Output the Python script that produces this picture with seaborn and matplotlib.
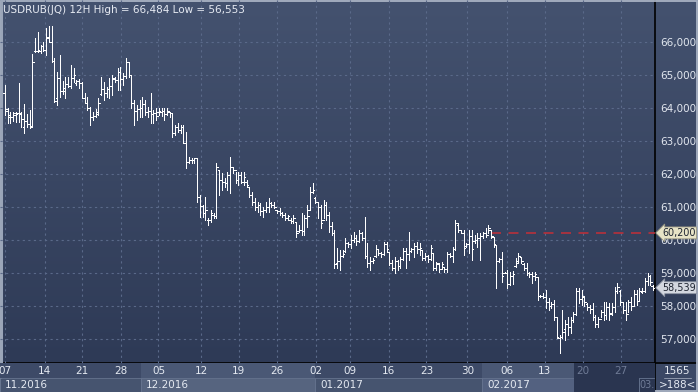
import numpy as np
import matplotlib
matplotlib.use("Agg")
import matplotlib.pyplot as plt
import matplotlib.transforms as mtransforms
from matplotlib.colors import LinearSegmentedColormap
from matplotlib.patches import Rectangle
import seaborn as sns

# ---------------- data (USDRUB 12H bars) ----------------
highs = [
    64680, 63980, 63870, 63850, 63870, 64730, 63870, 64100, 63800, 63930,
    65610, 66100, 66300, 65900, 66000, 66400, 66484, 66460, 65490, 65090,
    65590, 64800, 64930, 64930, 65290, 65190, 64830, 64850, 64780, 64430,
    64330, 64030, 63870, 63950, 64280, 64930, 64780, 64630, 64880,
    64985, 64934, 65187, 65237, 65035, 65490, 65389, 64985, 64227, 64075,
    64227, 64328, 64227, 64025, 64429, 63924, 63974, 63974, 64000, 63974,
    63974, 63873, 63823, 63470, 63520, 63470, 63470, 63267, 62510, 62460,
    62460, 62460, 61348, 61045, 61298, 60642, 60894, 60793, 62308,
    62106, 62005, 61853, 62055, 62510, 62207, 62055, 62055, 62055, 62055,
    61803, 61601, 61449, 61247, 61146, 61096, 60995, 61146, 61247, 61146,
    61146, 60894, 60944, 60843, 60793, 60742, 60641, 60742, 60540, 60439,
    60793, 60742, 61045, 61601, 61702, 61298, 61146, 61045, 61197,
    61147, 60844, 60540, 60288, 59733, 59682, 59682, 60035, 59935, 60136,
    60237, 60136, 60288, 60237, 60692, 59884, 59480, 59430, 59834, 59682,
    59632, 59935, 59935, 59632, 59379, 59480, 59379, 59480, 59733, 59733,
    60237, 59733, 59884, 59935, 59884, 59682, 59581, 59531, 59834, 59581,
    59329, 59278, 59329, 59177, 59632, 59581, 59783, 60591, 60490, 60288,
    60288, 59884, 60288, 60288, 60136, 60187, 60187, 60237, 60338, 60439,
    60288, 60086, 59834, 59430, 59632, 59026, 59076, 59026, 59050, 59430,
    59581, 59480, 59278, 59278, 59026, 59026, 59026, 58874, 58318, 58369,
    58470, 58217, 58116, 58167, 57662, 57106, 57864, 57561, 57662, 57662,
    57813, 58520, 58520, 58470, 58300, 58066, 58015, 58066, 57712, 57650,
    57864, 58116, 58116, 58066, 58066, 58571, 58672, 58470, 58116, 58116,
    58167, 58268, 58470, 58470, 58520, 58520, 58823, 58975, 58924, 58621,
]
lows = [
    63770, 63520, 63520, 63600, 63570, 63570, 63420, 63220, 63400, 63370,
    63420, 65690, 65690, 65640, 65700, 65590, 66000, 65390, 64180, 64080,
    64330, 64400, 64280, 64630, 64580, 64780, 64680, 64600, 64280, 64130,
    63930, 63470, 63620, 63700, 63770, 64380, 64230, 64330, 64280,
    64378, 64782, 64530, 64530, 64681, 64884, 64934, 63975, 63470, 63621,
    63722, 63722, 63772, 63722, 63520, 63520, 63621, 63772, 63750, 63621,
    63772, 63722, 63116, 63166, 63267, 63217, 62914, 62156, 62308, 62308,
    62308, 61146, 60692, 60692, 60591, 60440, 60540, 60642, 60642,
    61348, 61500, 61601, 61500, 61399, 62005, 61702, 61651, 61702, 61651,
    61601, 61298, 61045, 60894, 60844, 60742, 60692, 60844, 60844, 60995,
    60944, 60793, 60742, 60692, 60591, 60591, 60490, 60490, 60086, 60237,
    60136, 60136, 60389, 60894, 61399, 61096, 60641, 60338, 60641,
    60591, 60237, 60136, 59127, 59127, 59076, 59480, 59632, 59783, 59733,
    59935, 59833, 59935, 59985, 59430, 59177, 59076, 59278, 59480, 59531,
    59480, 59531, 59632, 59228, 59076, 58975, 59076, 59127, 59379, 59127,
    59379, 59632, 59480, 59581, 59531, 59379, 59379, 59329, 59379, 59076,
    59076, 59026, 59127, 59026, 59026, 59480, 59329, 59682, 60237, 60187,
    59531, 59783, 59581, 59379, 59884, 59783, 59379, 60035, 60086, 60187,
    60035, 59783, 58520, 59329, 58722, 58975, 58520, 58621, 58650, 59177,
    59278, 59280, 59076, 58924, 58874, 58672, 58773, 58167, 58268, 58217,
    57915, 57864, 57915, 57561, 57005, 56553, 57005, 56955, 57106, 57157,
    57510, 57712, 58066, 58015, 58000, 57864, 57763, 57561, 57359, 57360,
    57662, 57561, 57600, 57561, 57712, 57813, 58369, 58015, 57763, 57561,
    57813, 57864, 58015, 58015, 58167, 58369, 58419, 58621, 58621, 58470,
]
opens = [
    64430, 63900, 63770, 63720, 63820, 63820, 63800, 63400, 63600, 63500,
    63450, 65700, 65700, 65700, 65850, 65750, 66100, 66000, 65400, 64300,
    64900, 64500, 64500, 64700, 64650, 64900, 64750, 64800, 64750, 64300,
    64150, 64000, 63700, 63750, 63800, 64400, 64550, 64450, 64550,
    64650, 64850, 64830, 65080, 64850, 64950, 65390, 64980, 64130, 63900,
    63950, 64000, 64100, 63850, 63880, 63800, 63820, 63850, 63850, 63900,
    63800, 63850, 63820, 63220, 63400, 63330, 63420, 62920, 62360, 62400,
    62420, 62460, 61300, 61020, 60790, 60600, 60590, 60750, 60700,
    62100, 61800, 61750, 61700, 61950, 62200, 62100, 61800, 61950, 61750,
    61750, 61601, 61350, 61150, 61000, 61050, 60850, 60900, 61000, 61100,
    61050, 60880, 60850, 60800, 60750, 60650, 60600, 60550, 60540, 60250,
    60300, 60250, 60650, 60900, 61450, 61250, 61150, 61000, 60600,
    61050, 60750, 60400, 60200, 59300, 59350, 59500, 59650, 59900, 59850,
    60000, 60050, 59950, 60200, 60050, 59500, 59300, 59350, 59500, 59700,
    59600, 59550, 59850, 59630, 59300, 59150, 59350, 59200, 59400, 59650,
    59550, 59650, 59700, 59800, 59700, 59680, 59450, 59500, 59400, 59580,
    59150, 59250, 59100, 59170, 59100, 59550, 59500, 59700, 60450, 60280,
    60200, 59800, 59850, 60100, 59950, 60000, 60050, 60100, 60200, 60150,
    60300, 60080, 59830, 59350, 59420, 58990, 59000, 58650, 58900, 59200,
    59300, 59480, 59270, 59150, 59000, 58950, 58900, 58870, 58300, 58300,
    58250, 58100, 58000, 58050, 57650, 57030, 57050, 57300, 57450, 57350,
    57550, 57750, 58450, 58200, 58250, 58050, 57950, 57900, 57650, 57450,
    57600, 57800, 57700, 57950, 57760, 57950, 58450, 58450, 58100, 57850,
    57750, 58100, 58000, 58350, 58150, 58400, 58450, 58750, 58900, 58600,
]
closes = [
    63950, 63700, 63720, 63780, 63800, 63830, 63650, 63600, 63500, 63400,
    65390, 65700, 65750, 65850, 65750, 66150, 66000, 65400, 64200, 64900,
    64500, 64600, 64700, 64650, 64900, 65000, 64800, 64750, 64300, 64150,
    64000, 63700, 63750, 63850, 64150, 64550, 64450, 64550, 64650,
    64900, 64830, 65080, 64850, 64950, 65390, 64980, 64130, 63900, 63950,
    64000, 64100, 63850, 63880, 63800, 63820, 63750, 63900, 63900, 63800,
    63900, 63820, 63220, 63400, 63330, 63420, 62920, 62360, 62400, 62420,
    62460, 61300, 61020, 60790, 60900, 60590, 60800, 60700, 62200,
    61800, 61750, 61700, 61950, 62200, 62100, 61800, 61950, 61750, 61900,
    61650, 61350, 61150, 61000, 61050, 60850, 60900, 61000, 61100, 61050,
    61000, 60850, 60800, 60750, 60650, 60700, 60550, 60650, 60200, 60300,
    60250, 60650, 60700, 61450, 61500, 61150, 61000, 60500, 61050,
    60750, 60400, 60200, 59250, 59350, 59500, 59550, 59900, 59850, 60000,
    60050, 59950, 60200, 60050, 59500, 59300, 59350, 59380, 59700, 59600,
    59550, 59850, 59700, 59300, 59150, 59350, 59200, 59400, 59650, 59550,
    59650, 59700, 59800, 59700, 59750, 59450, 59500, 59400, 59750, 59150,
    59300, 59100, 59250, 59100, 59550, 59500, 59700, 60500, 60300, 60200,
    59750, 59850, 60100, 59700, 60000, 60050, 60100, 60200, 60150, 60350,
    60100, 59850, 59350, 59400, 58900, 59000, 58650, 58900, 58950, 59350,
    59500, 59350, 59150, 59000, 58950, 58900, 58950, 58300, 58300, 58250,
    58100, 58000, 58050, 57650, 57050, 57050, 57200, 57450, 57350, 57550,
    57750, 58450, 58200, 58300, 58100, 57950, 57900, 57650, 57450, 57600,
    57800, 57700, 57950, 57750, 57950, 58450, 58550, 58100, 57850, 57750,
    58100, 58000, 58350, 58150, 58450, 58450, 58750, 58900, 58700, 58539,
]

day_labels = ["07", "14", "21", "28", "05", "12", "19", "26", "02", "09",
              "16", "23", "30", "06", "13", "20", "27"]
day_bar_index = [0.0, 14.4, 28.0, 42.2, 55.9, 71.4, 85.2, 99.0, 113.3, 125.6,
                 139.8, 153.5, 168.4, 182.7, 196.6, 210.5, 224.3]
month_labels = ["11.2016", "12.2016", "01.2017", "02.2017", "03.2"]
month_start_index = [-1.8, 49.5, 112.9, 173.7, 230.9]
price_ticks = [57000, 58000, 59000, 60000, 61000, 62000, 63000, 64000, 65000, 66000]
level_price = 60200
level_start_index = 177
last_price = 58539
title = "USDRUB(JQ) 12H High = 66,484 Low = 56,553"

# ---------------- figure ----------------
sns.set_style("dark")
plt.rcParams["font.family"] = ["DejaVu Sans"]
W, H = 698, 392
fig = plt.figure(figsize=(W / 100, H / 100), dpi=100)

bg = fig.add_axes([0, 0, 1, 1])
bg.set_xlim(0, W)
bg.set_ylim(H, 0)
bg.axis("off")
cmap = LinearSegmentedColormap.from_list("bg", ["#44526f", "#2e3a56"])
grad = np.linspace(0, 1, 256).reshape(-1, 1)
bg.imshow(grad, extent=(0, W, 363, 0), aspect="auto", cmap=cmap, zorder=0)
bg.add_patch(Rectangle((0, 363), W, H - 363, color="#3b4865", zorder=1))

N = len(highs)
x = np.arange(N)
xl = (-1.82, N - 1 + 0.73)
yl = (56257.6, 67257.6)

# bottom date panel
axb = fig.add_axes([0, 0, 655 / W, (H - 363) / H])
axb.set_xlim(*xl)
axb.set_ylim(2, 0)
axb.axis("off")
axb.patch.set_alpha(0)
month_end = month_start_index[1:] + [xl[1]]
shade_row1 = ["#3d4a67", "#4a5875", "#3d4a67", "#4a5875", "#2a3550"]
shade_row2 = ["#46546f", "#56647f", "#46546f", "#536180", "#2a3550"]
for i, (s, e) in enumerate(zip(month_start_index, month_end)):
    axb.add_patch(Rectangle((s, 0), e - s, 1.0, color=shade_row1[i], lw=0, zorder=1))
    axb.add_patch(Rectangle((s, 1.0), e - s, 1.0, facecolor=shade_row2[i],
                            edgecolor="#66748f", lw=0.6, zorder=1))
dark_start = 207.2
axb.add_patch(Rectangle((dark_start, 0), month_start_index[4] - dark_start, 2.0,
                        color="#2a3550", lw=0, zorder=2))
for lab, pos in zip(day_labels, day_bar_index):
    col = "#6f7b96" if pos > dark_start else "#e4e9f1"
    axb.text(pos, 0.55, lab, ha="center", va="center", fontsize=7.5, color=col, zorder=3)
for i, (lab, pos) in enumerate(zip(month_labels, month_start_index)):
    last = i == len(month_labels) - 1
    col = "#6f7b96" if last else "#e4e9f1"
    axb.text(pos + (0.3 if last else 1.8), 1.5, lab, ha="left", va="center",
             fontsize=7.0 if last else 7.5, color=col, zorder=3, clip_on=True)

# main chart
ax = fig.add_axes([0, (H - 363) / H, 655 / W, 363 / H])
ax.patch.set_alpha(0)
ax.set_xlim(*xl)
ax.set_ylim(*yl)
for sp in ax.spines.values():
    sp.set_visible(False)
ax.set_xticks(day_bar_index)
ax.set_xticklabels([])
ax.set_yticks(price_ticks)
ax.set_yticklabels([f"{v:,}" for v in price_ticks])
ax.yaxis.tick_right()
ax.tick_params(axis="both", length=0)
ax.tick_params(axis="y", pad=4, labelsize=7.5, labelcolor="#e2e7ef")
ax.grid(True, color="#5a6989", linestyle=(0, (2, 3)), linewidth=0.8)

tick_w = 0.55
bar_kw = dict(color="white", lw=0.55, zorder=3, antialiased=False)
ax.vlines(x, lows, highs, **bar_kw)
ax.hlines(opens, x - tick_w, x, **bar_kw)
ax.hlines(closes, x, x + tick_w, **bar_kw)

sns.lineplot(x=[level_start_index, xl[1]], y=[level_price, level_price], ax=ax,
             color="#b8313b", lw=1.2, linestyle=(0, (6, 4.5)), zorder=2)

trans = mtransforms.blended_transform_factory(ax.transAxes, ax.transData)
ax.text(1.0 + 7 / 655, level_price, f"{level_price:,}", transform=trans, ha="left",
        va="center", fontsize=6.9, color="#1d2330", zorder=6, clip_on=False,
        bbox=dict(boxstyle="larrow,pad=0.1", fc="#e7e3c6", ec="#9b9884", lw=0.6))
ax.text(1.0 + 7 / 655, last_price, f"{last_price:,}", transform=trans, ha="left",
        va="center", fontsize=6.9, color="#1d2330", zorder=6, clip_on=False,
        bbox=dict(boxstyle="larrow,pad=0.1", fc="#d3d7df", ec="#8c93a2", lw=0.6))

fig.text(3 / W, 1 - 10 / H, title, ha="left", va="center", fontsize=7.5, color="#e6eaf2")

# separators, corner box, frame
bg.plot([655, 655], [0, H], color="black", lw=1.2, zorder=5)
bg.plot([0, W], [363, 363], color="black", lw=1.2, zorder=5)
bg.text(677, 371, "1565", ha="center", va="center", fontsize=7.5, color="#e4e9f1", zorder=6)
bg.plot([664, 691], [377.5, 377.5], color="#8d97ab", lw=0.7, zorder=6)
bg.text(678, 384.5, ">188<", ha="center", va="center", fontsize=7.5, color="#e4e9f1", zorder=6)
bg.add_patch(Rectangle((0.6, 0.6), W - 1.2, H - 1.2, fill=False, ec="#a9b3c4", lw=1.3, zorder=7))
bg.plot([1.5, 1.5], [0, 363], color="#9aa5b8", lw=1.5, zorder=7)

fig.savefig("out.png", dpi=100)
